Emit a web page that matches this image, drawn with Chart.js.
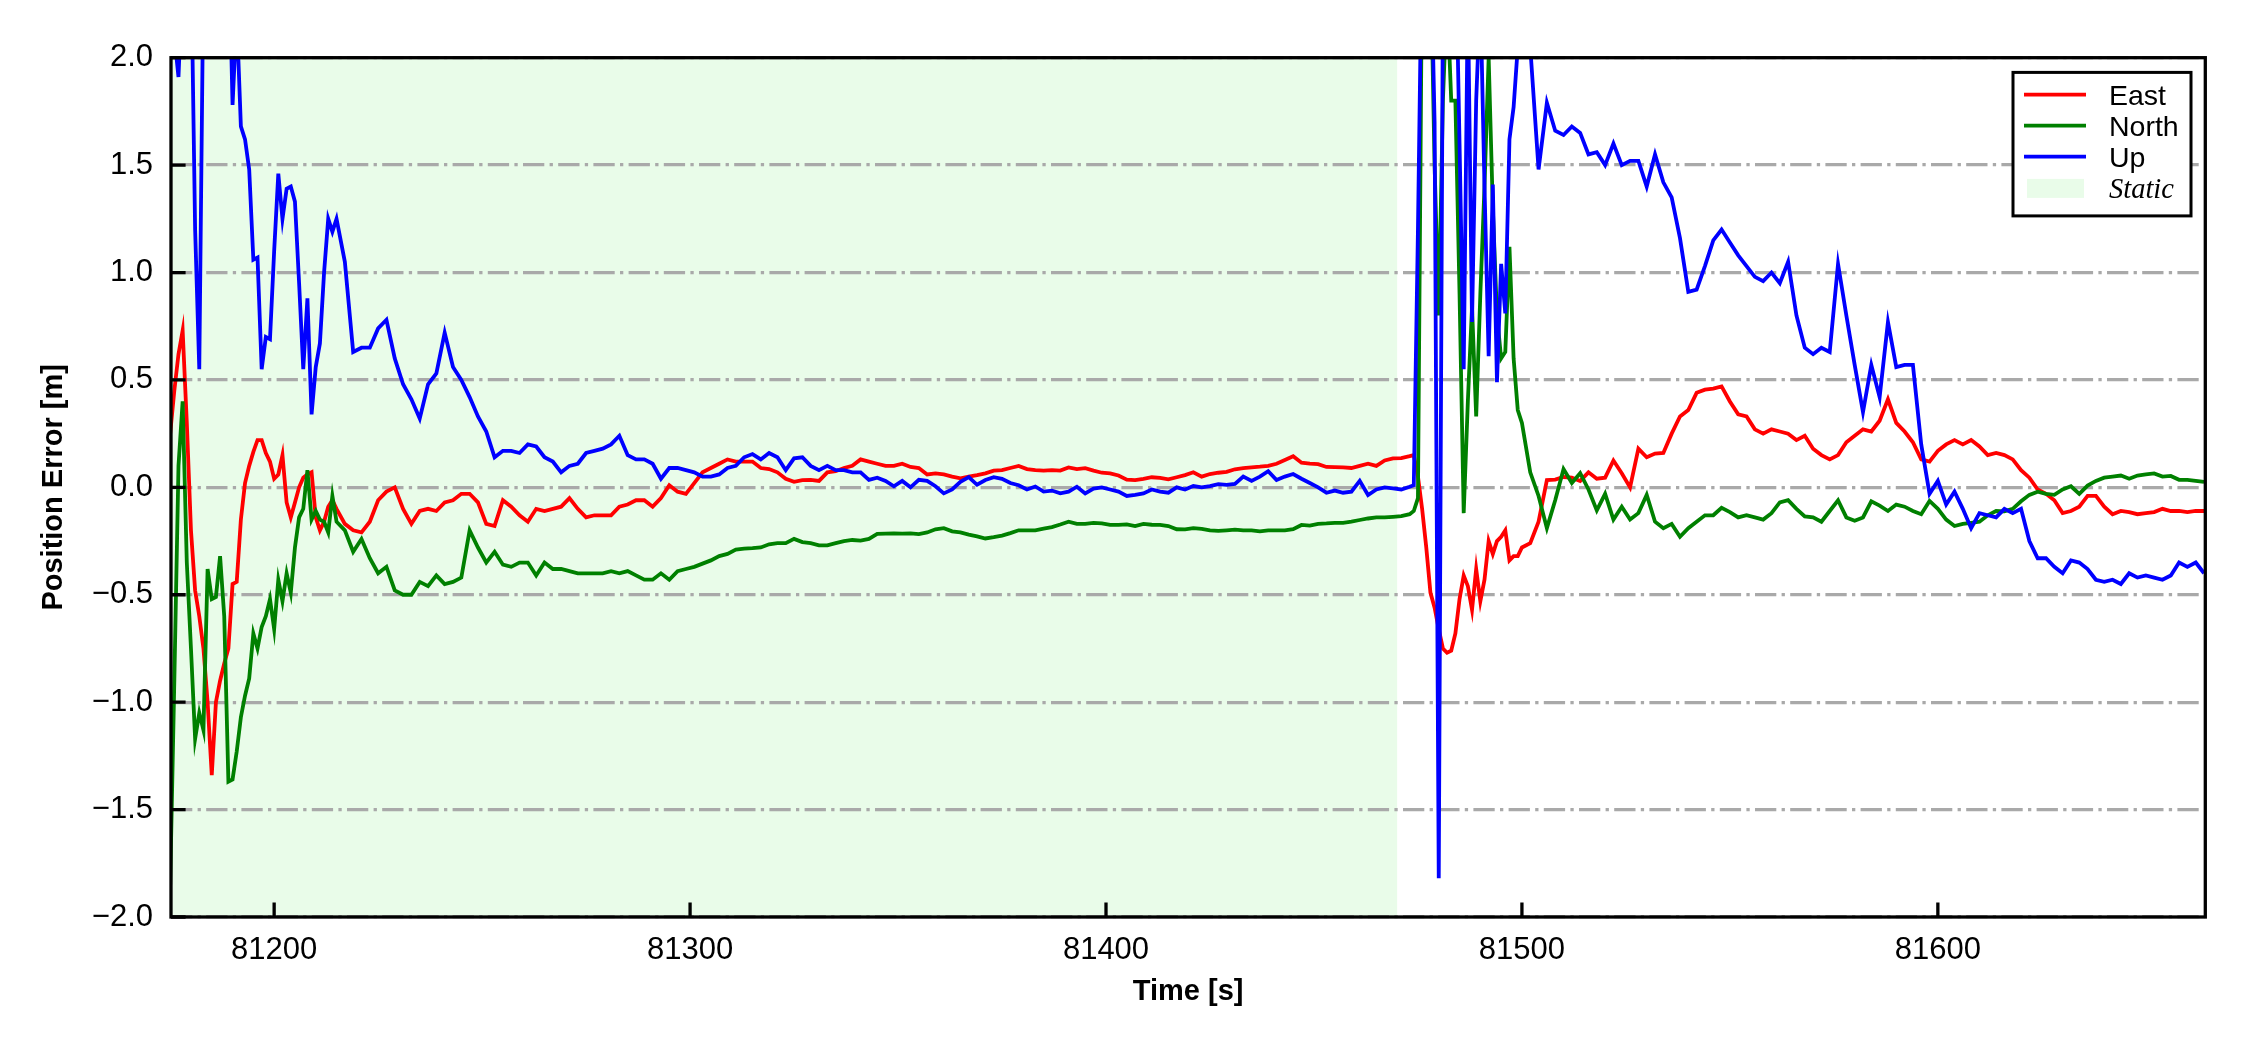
<!DOCTYPE html>
<html>
<head>
<meta charset="utf-8">
<script src="https://cdn.jsdelivr.net/npm/chart.js@4.4.0/dist/chart.umd.min.js"></script>
<style>
  html, body { margin: 0; padding: 0; background: #fff; }
  #chart { display: block; }
</style>
</head>
<body>
<canvas id="chart" width="2250" height="1050"></canvas>
<script>
// sampling of the time axis: [first, last, step] in seconds
const timeSegments = [
    [81175, 81215, 1],
    [81217, 81473, 2],
    [81474, 81500, 1],
    [81502, 81664, 2]
];

const east = [
    // 81175 - 81215
    0.25, 0.45, 0.62, 0.73, 0.3, -0.2, -0.48, -0.6, -0.75, -1.0,
    -1.34, -1.0, -0.9, -0.82, -0.75, -0.45, -0.44, -0.15, 0.02, 0.10,
    0.165, 0.22, 0.22, 0.16, 0.12, 0.04, 0.06, 0.15, -0.07, -0.14,
    -0.07, 0.0, 0.045, 0.06, 0.07, -0.14, -0.20, -0.16, -0.09, -0.06,
    -0.10,
    // 81217 - 81473
    -0.17, -0.20, -0.21, -0.16, -0.06, -0.02, 0.0, -0.10, -0.17, -0.11,
    -0.10, -0.11, -0.07, -0.06, -0.03, -0.03, -0.07, -0.17, -0.18, -0.06,
    -0.09, -0.13, -0.16, -0.10, -0.11, -0.10, -0.09, -0.05, -0.10, -0.14,
    -0.13, -0.13, -0.13, -0.09, -0.08, -0.06, -0.06, -0.09, -0.05, 0.01,
    -0.02, -0.03, 0.02, 0.07, 0.09, 0.11, 0.13, 0.12, 0.12, 0.12,
    0.09, 0.085, 0.07, 0.04, 0.026, 0.034, 0.035, 0.03, 0.07, 0.075,
    0.09, 0.10, 0.13, 0.12, 0.11, 0.10, 0.10, 0.11, 0.095, 0.09,
    0.06, 0.065, 0.06, 0.05, 0.042, 0.05, 0.057, 0.065, 0.078, 0.08,
    0.09, 0.10, 0.085, 0.08, 0.078, 0.08, 0.078, 0.093, 0.085, 0.089,
    0.078, 0.068, 0.065, 0.055, 0.036, 0.034, 0.04, 0.047, 0.044, 0.037,
    0.047, 0.057, 0.07, 0.05, 0.062, 0.068, 0.072, 0.084, 0.09, 0.093,
    0.096, 0.10, 0.11, 0.127, 0.145, 0.115, 0.11, 0.108, 0.095, 0.094,
    0.093, 0.09, 0.10, 0.11, 0.10, 0.125, 0.135, 0.136, 0.145,
    // 81474 - 81500
    0.15, 0.05, -0.1, -0.28, -0.49, -0.56, -0.66, -0.75, -0.77, -0.76,
    -0.68, -0.52, -0.41, -0.46, -0.57, -0.38, -0.53, -0.43, -0.25, -0.31,
    -0.25, -0.23, -0.20, -0.34, -0.32, -0.32, -0.28,
    // 81502 - 81664
    -0.26, -0.16, 0.034, 0.036, 0.048, 0.045, 0.03, 0.07, 0.04, 0.045,
    0.125, 0.066, 0.0, 0.18, 0.14, 0.157, 0.16, 0.25, 0.33, 0.36,
    0.44, 0.455, 0.46, 0.47, 0.40, 0.34, 0.33, 0.27, 0.25, 0.27,
    0.26, 0.25, 0.22, 0.24, 0.18, 0.15, 0.13, 0.15, 0.21, 0.24,
    0.27, 0.26, 0.31, 0.41, 0.30, 0.26, 0.21, 0.13, 0.12, 0.17,
    0.20, 0.22, 0.20, 0.22, 0.19, 0.15, 0.16, 0.15, 0.13, 0.08,
    0.045, -0.01, -0.03, -0.06, -0.12, -0.11, -0.09, -0.04, -0.04, -0.09,
    -0.125, -0.11, -0.115, -0.125, -0.12, -0.115, -0.10, -0.11, -0.11, -0.115,
    -0.11, -0.11
];

const north = [
    // 81175 - 81215
    -1.85, -0.9, 0.1, 0.40, -0.35, -0.75, -1.17, -1.05, -1.13, -0.38,
    -0.52, -0.51, -0.32, -0.60, -1.37, -1.36, -1.23, -1.07, -0.97, -0.89,
    -0.68, -0.75, -0.65, -0.60, -0.52, -0.66, -0.43, -0.53, -0.40, -0.49,
    -0.28, -0.14, -0.10, 0.08, -0.15, -0.11, -0.15, -0.16, -0.21, -0.04,
    -0.16,
    // 81217 - 81473
    -0.20, -0.30, -0.24, -0.33, -0.40, -0.37, -0.48, -0.50, -0.50, -0.44,
    -0.46, -0.41, -0.45, -0.44, -0.42, -0.20, -0.28, -0.35, -0.30, -0.36,
    -0.37, -0.35, -0.35, -0.41, -0.35, -0.38, -0.38, -0.39, -0.40, -0.40,
    -0.40, -0.40, -0.39, -0.40, -0.39, -0.41, -0.43, -0.43, -0.40, -0.43,
    -0.39, -0.38, -0.37, -0.355, -0.34, -0.32, -0.31, -0.29, -0.285, -0.283,
    -0.28, -0.265, -0.26, -0.26, -0.24, -0.255, -0.26, -0.27, -0.27, -0.26,
    -0.25, -0.245, -0.248, -0.24, -0.217, -0.215, -0.214, -0.215, -0.214, -0.218,
    -0.21, -0.195, -0.19, -0.205, -0.21, -0.22, -0.228, -0.238, -0.232, -0.225,
    -0.213, -0.2, -0.2, -0.2, -0.192, -0.185, -0.173, -0.16, -0.17, -0.17,
    -0.165, -0.168, -0.175, -0.175, -0.172, -0.18, -0.17, -0.174, -0.175, -0.18,
    -0.195, -0.196, -0.19, -0.193, -0.2, -0.203, -0.2, -0.197, -0.2, -0.2,
    -0.205, -0.2, -0.2, -0.2, -0.195, -0.175, -0.178, -0.17, -0.168, -0.165,
    -0.165, -0.16, -0.152, -0.145, -0.14, -0.14, -0.137, -0.134, -0.125,
    // 81474 - 81500
    -0.11, -0.05, 2.5, 2.5, 2.5, 1.5, 0.8, 1.8, 2.3, 1.8,
    1.8, 0.9, -0.12, 0.4, 0.84, 0.33, 0.9, 1.4, 2.0, 1.3,
    0.8, 0.6, 0.63, 1.12, 0.6, 0.36, 0.30,
    // 81502 - 81664
    0.07, -0.04, -0.19, -0.06, 0.085, 0.02, 0.066, -0.01, -0.107, -0.03,
    -0.15, -0.09, -0.15, -0.12, -0.035, -0.16, -0.19, -0.17, -0.23, -0.19,
    -0.16, -0.13, -0.13, -0.095, -0.115, -0.14, -0.13, -0.14, -0.15, -0.12,
    -0.07, -0.06, -0.1, -0.135, -0.14, -0.16, -0.11, -0.06, -0.14, -0.155,
    -0.14, -0.065, -0.085, -0.11, -0.08, -0.09, -0.11, -0.125, -0.063, -0.1,
    -0.15, -0.18, -0.17, -0.165, -0.16, -0.13, -0.11, -0.112, -0.10, -0.065,
    -0.035, -0.02, -0.03, -0.035, -0.01, 0.005, -0.03, 0.008, 0.03, 0.045,
    0.05, 0.055, 0.04, 0.055, 0.06, 0.065, 0.05, 0.053, 0.035, 0.035,
    0.03, 0.025
];

const up = [
    // 81175 - 81215
    2.3, 2.1, 1.91, 2.4, 2.6, 2.5, 1.2, 0.55, 2.4, 2.8,
    2.8, 2.8, 2.8, 2.8, 2.6, 1.78, 2.2, 1.68, 1.62, 1.48,
    1.06, 1.07, 0.55, 0.70, 0.69, 1.10, 1.46, 1.25, 1.39, 1.40,
    1.33, 0.95, 0.55, 0.88, 0.34, 0.56, 0.67, 1.0, 1.25, 1.19,
    1.25,
    // 81217 - 81473
    1.05, 0.63, 0.65, 0.65, 0.74, 0.78, 0.60, 0.48, 0.41, 0.32,
    0.48, 0.53, 0.72, 0.56, 0.50, 0.42, 0.33, 0.26, 0.14, 0.17,
    0.17, 0.16, 0.20, 0.19, 0.14, 0.12, 0.07, 0.10, 0.11, 0.16,
    0.17, 0.18, 0.20, 0.24, 0.15, 0.13, 0.13, 0.11, 0.04, 0.09,
    0.09, 0.08, 0.07, 0.05, 0.05, 0.06, 0.09, 0.10, 0.14, 0.155,
    0.13, 0.16, 0.14, 0.08, 0.135, 0.14, 0.10, 0.08, 0.10, 0.08,
    0.08, 0.07, 0.07, 0.035, 0.045, 0.03, 0.005, 0.03, 0.0, 0.035,
    0.03, 0.005, -0.028, -0.01, 0.026, 0.048, 0.012, 0.034, 0.047, 0.04,
    0.02, 0.01, -0.01, 0.004, -0.02, -0.015, -0.028, -0.02, 0.003, -0.028,
    -0.006, 0.0, -0.01, -0.02, -0.04, -0.035, -0.028, -0.01, -0.02, -0.025,
    0.0, -0.01, 0.006, 0.0, 0.006, 0.015, 0.012, 0.016, 0.05, 0.03,
    0.05, 0.075, 0.034, 0.05, 0.062, 0.04, 0.02, 0.0, -0.025, -0.015,
    -0.025, -0.02, 0.03, -0.036, -0.01, 0.0, -0.005, -0.01, 0.003,
    // 81474 - 81500
    0.01, 1.2, 2.6, 2.6, 2.6, 1.7, -1.82, 2.3, 2.6, 2.6,
    2.6, 1.6, 0.55, 2.3, 0.77, 1.8, 2.3, 1.4, 0.61, 1.41,
    0.49, 1.04, 0.81, 1.62, 1.77, 2.05, 2.1,
    // 81502 - 81664
    2.05, 1.48, 1.79, 1.66, 1.64, 1.68, 1.65, 1.55, 1.56, 1.50,
    1.60, 1.50, 1.52, 1.52, 1.40, 1.55, 1.42, 1.35, 1.16, 0.91,
    0.92, 1.03, 1.15, 1.20, 1.14, 1.08, 1.03, 0.98, 0.96, 1.00,
    0.95, 1.05, 0.80, 0.65, 0.62, 0.65, 0.63, 1.04, 0.80, 0.57,
    0.35, 0.57, 0.42, 0.77, 0.56, 0.57, 0.57, 0.20, -0.03, 0.03,
    -0.08, -0.02, -0.10, -0.19, -0.12, -0.13, -0.14, -0.10, -0.12, -0.10,
    -0.25, -0.33, -0.33, -0.37, -0.40, -0.34, -0.35, -0.38, -0.43, -0.44,
    -0.43, -0.45, -0.40, -0.42, -0.41, -0.42, -0.43, -0.41, -0.35, -0.37,
    -0.35, -0.40
];

const seriesLabels = ['East', 'North', 'Up'];
const staticLabel = 'Static';
const staticSpan = [81175, 81470];
const xRange = [81175.2, 81664.3];
const yRange = [-2, 2];
const xTickValues = [81200, 81300, 81400, 81500, 81600];
const yTickValues = [-2, -1.5, -1, -0.5, 0, 0.5, 1, 1.5, 2];

const time = [];
timeSegments.forEach(([first, last, step]) => {
    for (let t = first; t <= last; t += step) time.push(t);
});
[east, north, up].forEach((s, i) => {
    if (s.length !== time.length) console.warn(seriesLabels[i], s.length, time.length);
});

const sansFamily = "'Liberation Sans', Arial, Helvetica, sans-serif";
const staticFill = 'rgba(144, 238, 144, 0.2)';

function toPoints(values) {
    return values.map((v, i) => ({ x: time[i], y: v }));
}

// light green band for the static period, under the grid
const staticShade = {
    id: 'staticShade',
    beforeDraw(chart) {
        const { ctx, chartArea: a, scales: { x } } = chart;
        const x0 = Math.max(a.left, x.getPixelForValue(staticSpan[0]));
        const x1 = Math.min(a.right, x.getPixelForValue(staticSpan[1]));
        ctx.save();
        ctx.fillStyle = staticFill;
        ctx.fillRect(x0, a.top, x1 - x0, a.bottom - a.top);
        ctx.restore();
    }
};

// black box round the plot and inward tick marks
const frameTicks = {
    id: 'frameTicks',
    afterDatasetsDraw(chart) {
        const { ctx, chartArea: a, scales: { x, y } } = chart;
        ctx.save();
        ctx.strokeStyle = '#000';
        ctx.lineWidth = 3.3;
        ctx.beginPath();
        x.ticks.forEach(t => {
            const px = x.getPixelForValue(t.value);
            ctx.moveTo(px, a.bottom);
            ctx.lineTo(px, a.bottom - 14.6);
        });
        y.ticks.forEach(t => {
            const py = y.getPixelForValue(t.value);
            ctx.moveTo(a.left, py);
            ctx.lineTo(a.left + 14.6, py);
        });
        ctx.stroke();
        ctx.strokeRect(a.left, a.top, a.right - a.left, a.bottom - a.top);
        ctx.restore();
    }
};

// boxed legend in the upper right corner
const boxLegend = {
    id: 'boxLegend',
    afterDraw(chart) {
        const ctx = chart.ctx;
        const bx = 2013, by = 72.4, bw = 178, bh = 143.5;
        const rows = [94.7, 125.7, 156.7, 188.4];
        ctx.save();
        ctx.fillStyle = '#fff';
        ctx.fillRect(bx, by, bw, bh);
        ctx.lineWidth = 3;
        ctx.strokeStyle = '#000';
        ctx.strokeRect(bx, by, bw, bh);

        ctx.textBaseline = 'alphabetic';
        ctx.textAlign = 'left';
        chart.data.datasets.forEach((ds, i) => {
            ctx.strokeStyle = ds.borderColor;
            ctx.lineWidth = 3.8;
            ctx.beginPath();
            ctx.moveTo(2024, rows[i]);
            ctx.lineTo(2086, rows[i]);
            ctx.stroke();
            ctx.fillStyle = '#000';
            ctx.font = '28.5px ' + sansFamily;
            ctx.fillText(ds.label, 2109, rows[i] + 10.3);
        });
        ctx.fillStyle = staticFill;
        ctx.fillRect(2027, rows[3] - 9.5, 57, 19);
        ctx.fillStyle = '#000';
        ctx.font = "italic 28.5px 'Liberation Serif', 'Times New Roman', serif";
        ctx.fillText(staticLabel, 2109, rows[3] + 9.5);
        ctx.restore();
    }
};

const canvas = document.getElementById('chart');

new Chart(canvas, {
    type: 'line',
    data: {
        datasets: [
            { label: seriesLabels[0], data: toPoints(east), borderColor: '#ff0000', order: 2 },
            { label: seriesLabels[1], data: toPoints(north), borderColor: '#008000', order: 1 },
            { label: seriesLabels[2], data: toPoints(up), borderColor: '#0000ff', order: 0 }
        ]
    },
    options: {
        responsive: false,
        animation: false,
        devicePixelRatio: 1,
        layout: { padding: { top: 57.7, right: 44.7, bottom: 0, left: 0 } },
        elements: {
            point: { radius: 0 },
            line: { tension: 0, borderWidth: 3.8, fill: false }
        },
        plugins: {
            legend: { display: false },
            tooltip: { enabled: false }
        },
        scales: {
            x: {
                type: 'linear',
                min: xRange[0],
                max: xRange[1],
                afterFit: scale => { scale.height = 133; },
                afterBuildTicks: scale => { scale.ticks = xTickValues.map(v => ({ value: v })); },
                grid: { display: false },
                border: { display: false },
                ticks: {
                    autoSkip: false,
                    maxRotation: 0,
                    padding: 7,
                    color: '#000',
                    font: { family: sansFamily, size: 31 },
                    callback: v => String(v)
                },
                title: {
                    display: true,
                    text: 'Time [s]',
                    color: '#000',
                    font: { family: sansFamily, size: 29, weight: 'bold' },
                    padding: { top: 0, bottom: 40.6 }
                }
            },
            y: {
                min: yRange[0],
                max: yRange[1],
                afterFit: scale => { scale.width = 171; },
                afterBuildTicks: scale => { scale.ticks = yTickValues.map(v => ({ value: v })); },
                grid: { color: '#a9a9a9', lineWidth: 3.3, drawTicks: false },
                border: { display: false, dash: [21.3, 5.3, 3.3, 5.3] },
                ticks: {
                    padding: 18,
                    color: '#000',
                    font: { family: sansFamily, size: 31 },
                    callback: v => (v < 0 ? '\u2212' : '') + Math.abs(v).toFixed(1)
                },
                title: {
                    display: true,
                    text: 'Position Error [m]',
                    color: '#000',
                    font: { family: sansFamily, size: 29, weight: 'bold' },
                    padding: { top: 37, bottom: 0 }
                }
            }
        }
    },
    plugins: [staticShade, frameTicks, boxLegend]
});
</script>
</body>
</html>
